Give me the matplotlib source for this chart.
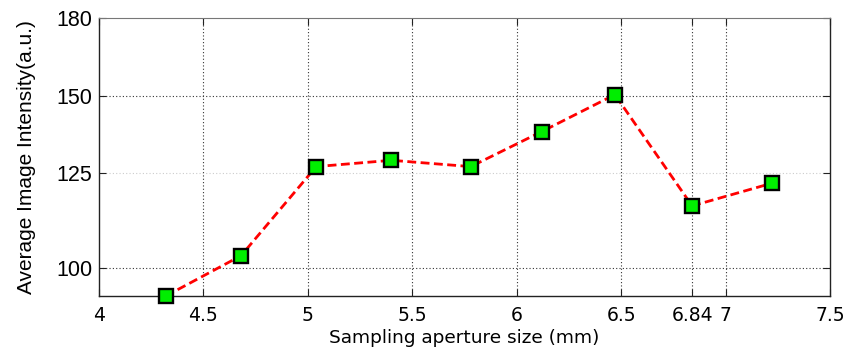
import matplotlib
matplotlib.use("Agg")
import matplotlib.pyplot as plt
from matplotlib.ticker import FixedLocator, NullLocator, NullFormatter

# aperture size (mm) vs average intensity
aperture = [4.32, 4.68, 5.04, 5.40, 5.78, 6.12, 6.47, 6.84, 7.22]
intensity = [93.6, 102.9, 126.9, 128.8, 126.9, 137.8, 150.3, 115.7, 122.0]

x_ticks = [4, 4.5, 5, 5.5, 6, 6.5, 6.84, 7, 7.5]
x_labels = ["4", "4.5", "5", "5.5", "6", "6.5", "6.84", "7", "7.5"]
y_ticks = [100, 125, 150, 180]

fig = plt.figure(figsize=(8.49, 3.53), dpi=100)
ax = fig.add_axes([0.1166, 0.1615, 0.861, 0.7875])

ax.plot(aperture, intensity, color="red", linestyle=(0, (3.2, 1.6)), linewidth=2.0,
        marker="s", markersize=10, markerfacecolor="#00ee00",
        markeredgecolor="black", markeredgewidth=1.7, clip_on=False, zorder=5)

ax.set_yscale("log")
ax.set_xlim(4, 7.5)
ax.set_ylim(93.6, 180)

ax.yaxis.set_major_locator(FixedLocator(y_ticks))
ax.yaxis.set_minor_locator(NullLocator())
ax.yaxis.set_minor_formatter(NullFormatter())
ax.set_yticklabels([str(v) for v in y_ticks], fontsize=15.5, family="Liberation Sans")
ax.set_xticks(x_ticks)
ax.set_xticklabels(x_labels, fontsize=13.5, family="DejaVu Sans")

# grid: dark dotted lines, the 125 one is light
for xv in x_ticks[1:-1]:
    ax.axvline(xv, color="#333333", linestyle=(0, (1, 2)), linewidth=0.8, zorder=1)
for yv in [100, 150]:
    ax.axhline(yv, color="#333333", linestyle=(0, (1, 2)), linewidth=0.8, zorder=1)
ax.axhline(125, color="#cccccc", linestyle=(0, (1, 2)), linewidth=0.8, zorder=1)

ax.tick_params(direction="in", length=5, width=0.8, top=True, right=True,
               colors="#222222")
ax.tick_params(axis="x", labelcolor="black", pad=7)
ax.tick_params(axis="y", labelcolor="black", pad=5)
for side in ["left", "bottom", "right"]:
    ax.spines[side].set_color("#222222")
    ax.spines[side].set_linewidth(1.0)
ax.spines["top"].set_color("#777777")

ax.set_xlabel("Sampling aperture size (mm)", fontsize=13.3, family="DejaVu Sans", labelpad=3)
ax.set_ylabel("Average Image Intensity(a.u.)", fontsize=15, family="Liberation Sans", labelpad=14)

fig.savefig("out.png", dpi=100)
